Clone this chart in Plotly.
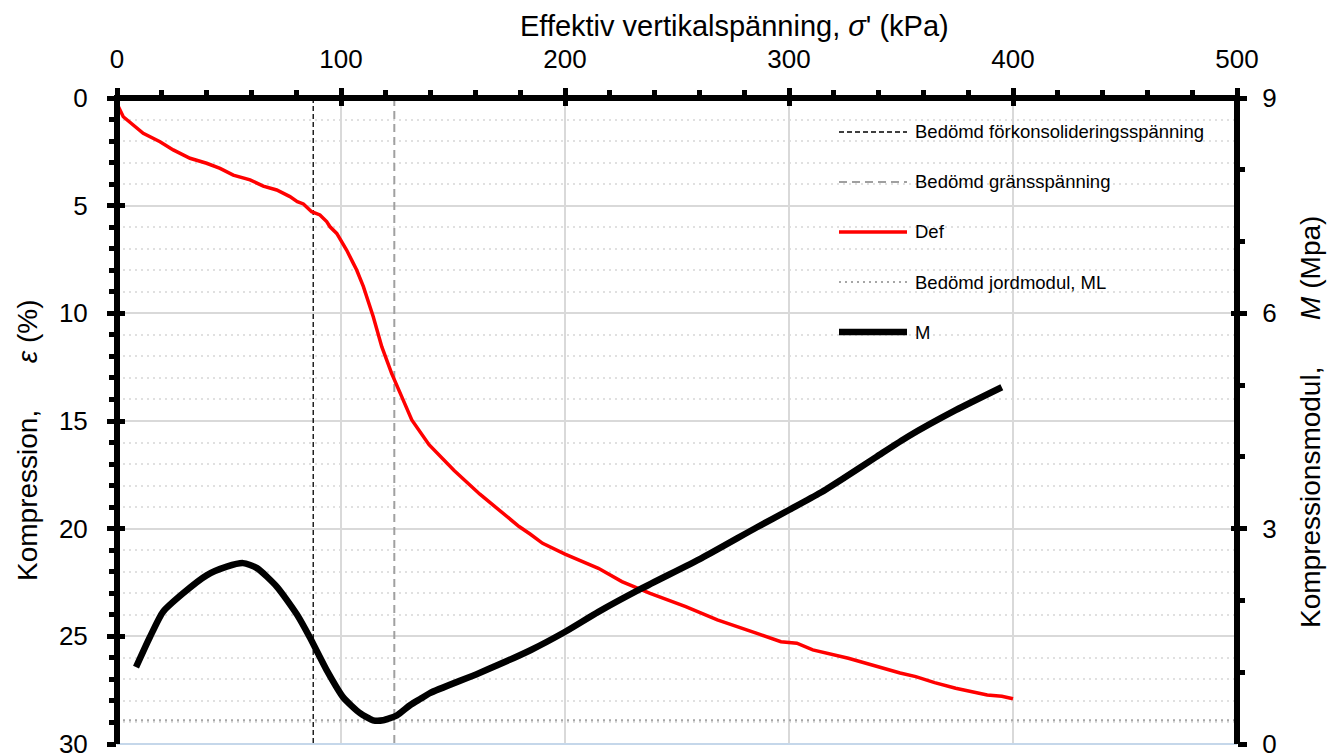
import plotly.graph_objects as go

# ---------------- data ----------------
def_x = [0, 0.6, 2.8, 7.3, 11.7, 19.2, 25.1, 32.6, 40, 46, 51.9, 59.4, 65.3, 71.3, 77.2,
         80.5, 83.2, 86.9, 90.6, 93.6, 95.1, 98.1, 100, 102.5, 105.5, 107, 110, 111.5,
         114.4, 118.2, 122.6, 127.1, 131.6, 139.3, 150.5, 162, 172.5, 179.5, 184.4, 190,
         200, 214.9, 225.4, 238, 253.9, 268, 285.7, 296.4, 303.5, 310.6, 326.5, 339,
         349.6, 356.6, 365, 374.4, 388.5, 395, 400]
def_y = [0, 0.4, 0.87, 1.25, 1.64, 2.03, 2.41, 2.8, 3.03, 3.27, 3.58, 3.8, 4.09, 4.27, 4.58,
         4.81, 4.92, 5.28, 5.43, 5.74, 5.98, 6.29, 6.6, 7.06, 7.68, 7.99, 8.76, 9.2,
         10.16, 11.55, 12.79, 13.87, 14.95, 16.1, 17.3, 18.4, 19.29, 19.9, 20.25, 20.68,
         21.18, 21.84, 22.46, 23.0, 23.62, 24.24, 24.86, 25.25, 25.32, 25.63, 26.02, 26.41,
         26.7, 26.87, 27.15, 27.41, 27.72, 27.78, 27.9]

m_x = [8.5, 14.7, 20.5, 29.5, 40, 49, 56.3, 62.5, 71.4, 80.4, 86, 93.6, 101, 108.5, 114.3,
       118.8, 125, 130.8, 135.5, 139.7, 161.8, 184.8, 199.9, 214.9, 234.4, 261, 285.7, 300,
       314, 324.7, 339, 353, 374.4, 395]
m_y = [1.07, 1.49, 1.84, 2.10, 2.35, 2.47, 2.52, 2.45, 2.19, 1.80, 1.49, 1.03, 0.65, 0.43, 0.33,
       0.33, 0.40, 0.54, 0.63, 0.71, 0.99, 1.31, 1.56, 1.84, 2.17, 2.59, 3.02, 3.26,
       3.50, 3.71, 4.00, 4.28, 4.65, 4.97]

forkons_x = 87.6      # Bedömd förkonsolideringsspänning (kPa)
grans_x = 123.8       # Bedömd gränsspänning (kPa)
ml_value = 0.33       # Bedömd jordmodul, ML (MPa)

x_range = [0, 500]
y_range = [30, 0]
y2_range = [0, 9]
x_ticks = [0, 100, 200, 300, 400, 500]
y_ticks = [0, 5, 10, 15, 20, 25, 30]
y2_ticks = [0, 3, 6, 9]

legend_items = [
    ("Bedömd förkonsolideringsspänning", "black", 1.3, "5px,3px"),
    ("Bedömd gränsspänning", "#a0a0a0", 2, "8px,5px"),
    ("Def", "#ff0000", 3.5, "solid"),
    ("Bedömd jordmodul, ML", "#a6a6a6", 2, "2px,4px"),
    ("M", "black", 6.5, "solid"),
]

FONT = "Liberation Sans, Arial, sans-serif"
W, H = 1331, 755
L, R, T, B = 117, 94, 98, 11
PW, PH = W - L - R, H - T - B

fig = go.Figure()

fig.add_trace(go.Scatter(x=[forkons_x, forkons_x], y=[y_range[1], y_range[0]], mode="lines",
                         line=dict(color="black", width=1.3, dash="5px,3px"),
                         showlegend=False, hoverinfo="skip"))
fig.add_trace(go.Scatter(x=[grans_x, grans_x], y=[y_range[1], y_range[0]], mode="lines",
                         line=dict(color="#a0a0a0", width=2, dash="8px,5px"),
                         showlegend=False, hoverinfo="skip"))
fig.add_trace(go.Scatter(x=def_x, y=def_y, mode="lines", name="Def",
                         line=dict(color="#ff0000", width=3.5), showlegend=False))
fig.add_trace(go.Scatter(x=x_range, y=[ml_value, ml_value], yaxis="y2", mode="lines",
                         line=dict(color="#a6a6a6", width=2, dash="2px,4px"),
                         showlegend=False, hoverinfo="skip"))
fig.add_trace(go.Scatter(x=m_x, y=m_y, yaxis="y2", mode="lines", name="M",
                         line=dict(color="black", width=6.5, shape="spline", smoothing=0.6),
                         showlegend=False))
# helper traces so the tick-only overlay axes are drawn
fig.add_trace(go.Scatter(x=[], y=[], xaxis="x2", yaxis="y", showlegend=False))
fig.add_trace(go.Scatter(x=[], y=[], xaxis="x", yaxis="y3", showlegend=False))
fig.add_trace(go.Scatter(x=[], y=[], xaxis="x", yaxis="y4", showlegend=False))

tickfont = dict(family=FONT, size=26, color="black")
grid = "#d9d9d9"

fig.update_layout(
    width=W, height=H,
    margin=dict(l=L, r=R, t=T, b=B, pad=0, autoexpand=False),
    paper_bgcolor="white", plot_bgcolor="white",
    font=dict(family=FONT, color="black"),
    showlegend=False,
    xaxis=dict(range=x_range, side="top", tickmode="array", tickvals=x_ticks,
               ticks="outside", ticklen=9, tickwidth=5, tickcolor="black", automargin=False,
               showline=False, zeroline=False, showgrid=True, gridcolor=grid, gridwidth=2,
               tickfont=tickfont, ticklabelstandoff=10, ticklabeloverflow="allow",
               minor=dict(dtick=20, tick0=0, ticks="outside", ticklen=7, tickwidth=5,
                          tickcolor="black", showgrid=False)),
    xaxis2=dict(range=x_range, overlaying="x", anchor="y", side="top", tickmode="array",
                tickvals=x_ticks, ticks="inside", ticklen=8, tickwidth=5, tickcolor="black",
                automargin=False,
                showticklabels=False, showgrid=False, zeroline=False, showline=False),
    yaxis=dict(range=y_range, tickmode="array", tickvals=y_ticks,
               ticks="outside", ticklen=9, tickwidth=5, tickcolor="black", automargin=False,
               showline=False, zeroline=False, showgrid=True, gridcolor=grid, gridwidth=2,
               tickfont=tickfont, ticklabelstandoff=14, ticklabeloverflow="allow",
               minor=dict(dtick=1, tick0=0, ticks="outside", ticklen=7, tickwidth=5,
                          tickcolor="black", showgrid=True, gridcolor="#e0e0e0",
                          gridwidth=1.5, griddash="2px,4px")),
    yaxis2=dict(range=y2_range, overlaying="y", anchor="x", side="right", tickmode="array",
                tickvals=y2_ticks, ticks="outside", ticklen=9, tickwidth=5, tickcolor="black",
                automargin=False,
                showline=False, zeroline=False, showgrid=False, tickfont=tickfont,
                ticklabelstandoff=10, ticklabeloverflow="allow",
                minor=dict(dtick=1, tick0=0, ticks="outside", ticklen=7, tickwidth=5,
                           tickcolor="black", showgrid=False)),
    yaxis3=dict(range=y_range, overlaying="y", anchor="x", side="left", tickmode="array",
                tickvals=y_ticks, ticks="inside", ticklen=8, tickwidth=5, tickcolor="black",
                automargin=False,
                showticklabels=False, showgrid=False, zeroline=False, showline=False),
    yaxis4=dict(range=y2_range, overlaying="y", anchor="x", side="right", tickmode="array",
                tickvals=y2_ticks, ticks="inside", ticklen=6, tickwidth=5, tickcolor="black",
                automargin=False,
                showticklabels=False, showgrid=False, zeroline=False, showline=False),
)

def px_x(p):
    return (p - L) / PW

def px_y(p):
    return 1 - (p - T) / PH

shapes = []
ext = 3 / PW
exty = 3 / PH
# frame lines
shapes.append(dict(type="line", xref="paper", yref="paper", x0=0, x1=1, y0=0, y1=0,
                   line=dict(color="#c5d7ea", width=2), layer="above"))
shapes.append(dict(type="line", xref="paper", yref="paper", x0=-ext, x1=1 + ext, y0=1, y1=1,
                   line=dict(color="black", width=6), layer="above"))
shapes.append(dict(type="line", xref="paper", yref="paper", x0=0, x1=0, y0=0, y1=1 + exty,
                   line=dict(color="black", width=6), layer="above"))
shapes.append(dict(type="line", xref="paper", yref="paper", x0=1, x1=1, y0=0, y1=1 + exty,
                   line=dict(color="black", width=6), layer="above"))

annotations = []
for i, (label, color, width, dash) in enumerate(legend_items):
    yc = px_y(132 + 50 * i)
    shapes.append(dict(type="line", xref="paper", yref="paper", x0=px_x(839), x1=px_x(907),
                       y0=yc, y1=yc, line=dict(color=color, width=width, dash=dash),
                       layer="above"))
    annotations.append(dict(text=label, xref="paper", yref="paper", x=px_x(913), y=yc,
                            xanchor="left", yanchor="middle", showarrow=False,
                            font=dict(family=FONT, size=18.5, color="black")))

gap = "\u00a0" * 5 + " "
annotations.append(dict(text="Effektiv vertikalspänning, <i>σ</i>' (kPa)", xref="paper",
                        yref="paper", x=px_x(734), y=px_y(26), xanchor="center",
                        yanchor="middle", showarrow=False,
                        font=dict(family=FONT, size=29, color="black")))
annotations.append(dict(text="Kompression," + gap + "<i>ε</i> (%)", xref="paper", yref="paper",
                        x=px_x(27), y=px_y(440), xanchor="center", yanchor="middle",
                        textangle=-90, showarrow=False,
                        font=dict(family=FONT, size=28, color="black")))
annotations.append(dict(text="Kompressionsmodul," + gap + "<i>M</i> (Mpa)", xref="paper",
                        yref="paper", x=px_x(1310), y=px_y(422), xanchor="center",
                        yanchor="middle", textangle=-90, showarrow=False,
                        font=dict(family=FONT, size=28, color="black")))

fig.update_layout(shapes=shapes, annotations=annotations)
fig.write_html("out.html")
